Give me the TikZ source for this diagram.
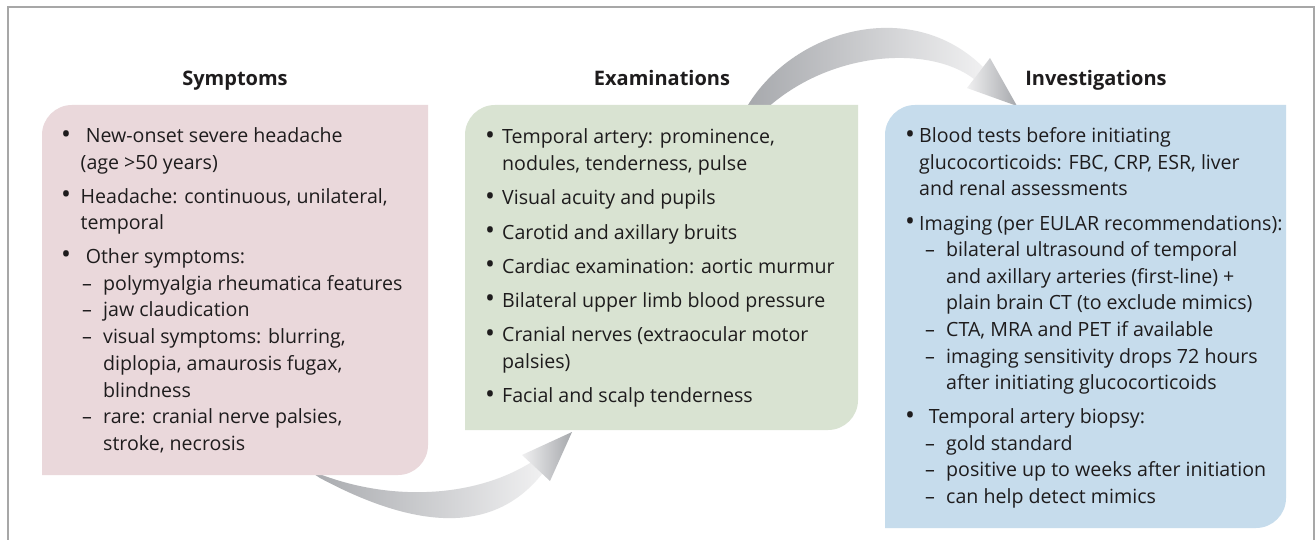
\documentclass[tikz,border=0pt]{standalone}
\usepackage{fontspec}
\setmainfont{Open Sans}
\definecolor{pinkbox}{HTML}{EAD8DB}
\definecolor{greenbox}{HTML}{D9E3D2}
\definecolor{bluebox}{HTML}{C6DCEC}
\definecolor{txt}{HTML}{1E1C1D}
\definecolor{framec}{HTML}{A7A7A7}
\definecolor{arrdark}{HTML}{A6A8AC}
\definecolor{arrlight}{HTML}{F0F0F1}
\newcommand\bulglyph{\raisebox{-0.4pt}{\scalebox{1.35}{•}}}
\newcommand\bulA{\makebox[19.5pt][l]{\bulglyph}}
\newcommand\bulB{\makebox[17pt][l]{\bulglyph}}
\newcommand\bulC{\makebox[14pt][l]{\bulglyph}}
\newcommand\dsh{\makebox[21pt][l]{–}}
\begin{document}
\begin{tikzpicture}[x=1pt,y=-1pt,
  ln/.style={anchor=base west, inner sep=0pt, text=txt, font=\fontsize{19.6}{26}\selectfont},
  ttl/.style={anchor=base, inner sep=0pt, text=txt, font=\fontsize{20}{24}\selectfont\bfseries}]
\useasboundingbox (0,0) rectangle (1316,540);
\fill[white] (0,0) rectangle (1316,540);
\draw[framec, line width=2pt] (8,540) -- (8,7) -- (1314,7) -- (1314,540);
% arrows (behind boxes)
\shade[left color=arrdark, right color=arrlight]
  (305,468) .. controls (380,502) and (470,500) .. (530.4,462.8)
  -- (542.2,473.7) .. controls (500,527) and (430,537) .. (320,478) -- cycle;
\shade[left color=arrlight, right color=arrdark]
  (522,455) -- (572,432) -- (550,481) -- cycle;
\shade[left color=arrdark, right color=arrlight]
  (745,110) .. controls (790,30) and (910,-5) .. (983,67)
  -- (974,79) .. controls (930,45) and (830,50) .. (765,110) -- cycle;
\shade[left color=arrlight, right color=arrdark]
  (967,88) -- (990,58) -- (1017,106) -- cycle;
% boxes
\fill[pinkbox] (42,475) -- (42,135) .. controls (42,118.43) and (55.43,105) .. (72,105)
  -- (428,105) -- (428,445) .. controls (428,461.57) and (414.57,475) .. (398,475) -- cycle;
\fill[greenbox] (465,430) -- (465,135) .. controls (465,118.43) and (478.43,105) .. (495,105)
  -- (858,105) -- (858,400) .. controls (858,416.57) and (844.57,430) .. (828,430) -- cycle;
\fill[bluebox] (885,528) -- (885,135) .. controls (885,118.43) and (898.43,105) .. (915,105)
  -- (1286,105) -- (1286,498) .. controls (1286,514.57) and (1272.57,528) .. (1256,528) -- cycle;
% titles
\node[ttl] (t1) at (235,86) {Symptoms};
\node[ttl] (t2) at (662,86) {Examinations};
\node[ttl] (t3) at (1096,86) {Investigations};
% Symptoms
\node[ln] (s1) at (61,142.7) {\bulA\ New-onset severe headache};
\node[ln] (s2) at (80.5,169.4) {(age >50 years)};
\node[ln] (s3) at (61,203.1) {\bulA Headache: continuous, unilateral,};
\node[ln] (s4) at (80.5,229.8) {temporal};
\node[ln] (s5) at (61,263.5) {\bulA\ Other symptoms:};
\node[ln] (s6) at (82,290.2) {\dsh polymyalgia rheumatica features};
\node[ln] (s7) at (82,316.9) {\dsh jaw claudication};
\node[ln] (s8) at (82,343.6) {\dsh visual symptoms: blurring,};
\node[ln] (s9) at (103,370.3) {diplopia, amaurosis fugax,};
\node[ln] (s10) at (103,397) {blindness};
\node[ln] (s11) at (82,423.7) {\dsh rare: cranial nerve palsies,};
\node[ln] (s12) at (103,450.4) {stroke, necrosis};
% Examinations
\node[ln] (e1) at (485,144) {\bulB Temporal artery: prominence,};
\node[ln] (e2) at (502,170.7) {nodules, tenderness, pulse};
\node[ln] (e3) at (485,204.9) {\bulB Visual acuity and pupils};
\node[ln] (e4) at (485,239.1) {\bulB Carotid and axillary bruits};
\node[ln] (e5) at (485,273.3) {\bulB Cardiac examination: aortic murmur};
\node[ln] (e6) at (485,307.5) {\bulB Bilateral upper limb blood pressure};
\node[ln] (e7) at (485,341.7) {\bulB Cranial nerves (extraocular motor};
\node[ln] (e8) at (502,368.4) {palsies)};
\node[ln] (e9) at (485,402.6) {\bulB Facial and scalp tenderness};
% Investigations
\node[ln] (i1) at (905,142.7) {\bulC Blood tests before initiating};
\node[ln] (i2) at (919,169.3) {glucocorticoids: FBC, CRP, ESR, liver};
\node[ln] (i3) at (919,195.9) {and renal assessments};
\node[ln] (i4) at (905,230) {\bulC Imaging (per EULAR recommendations):};
\node[ln] (i5) at (925,256.6) {\dsh bilateral ultrasound of temporal};
\node[ln] (i6) at (946,283.2) {and axillary arteries (first-line) +};
\node[ln] (i7) at (946,309.8) {plain brain CT (to exclude mimics)};
\node[ln] (i8) at (925,336.4) {\dsh CTA, MRA and PET if available};
\node[ln] (i9) at (925,363) {\dsh imaging sensitivity drops 72 hours};
\node[ln] (i10) at (946,389.6) {after initiating glucocorticoids};
\node[ln] (i11) at (905,423.7) {\makebox[23.7pt][l]{\bulglyph}Temporal artery biopsy:};
\node[ln] (i12) at (925,450.3) {\dsh gold standard};
\node[ln] (i13) at (925,476.9) {\dsh positive up to weeks after initiation};
\node[ln] (i14) at (925,503.5) {\dsh can help detect mimics};
\end{tikzpicture}
\end{document}
